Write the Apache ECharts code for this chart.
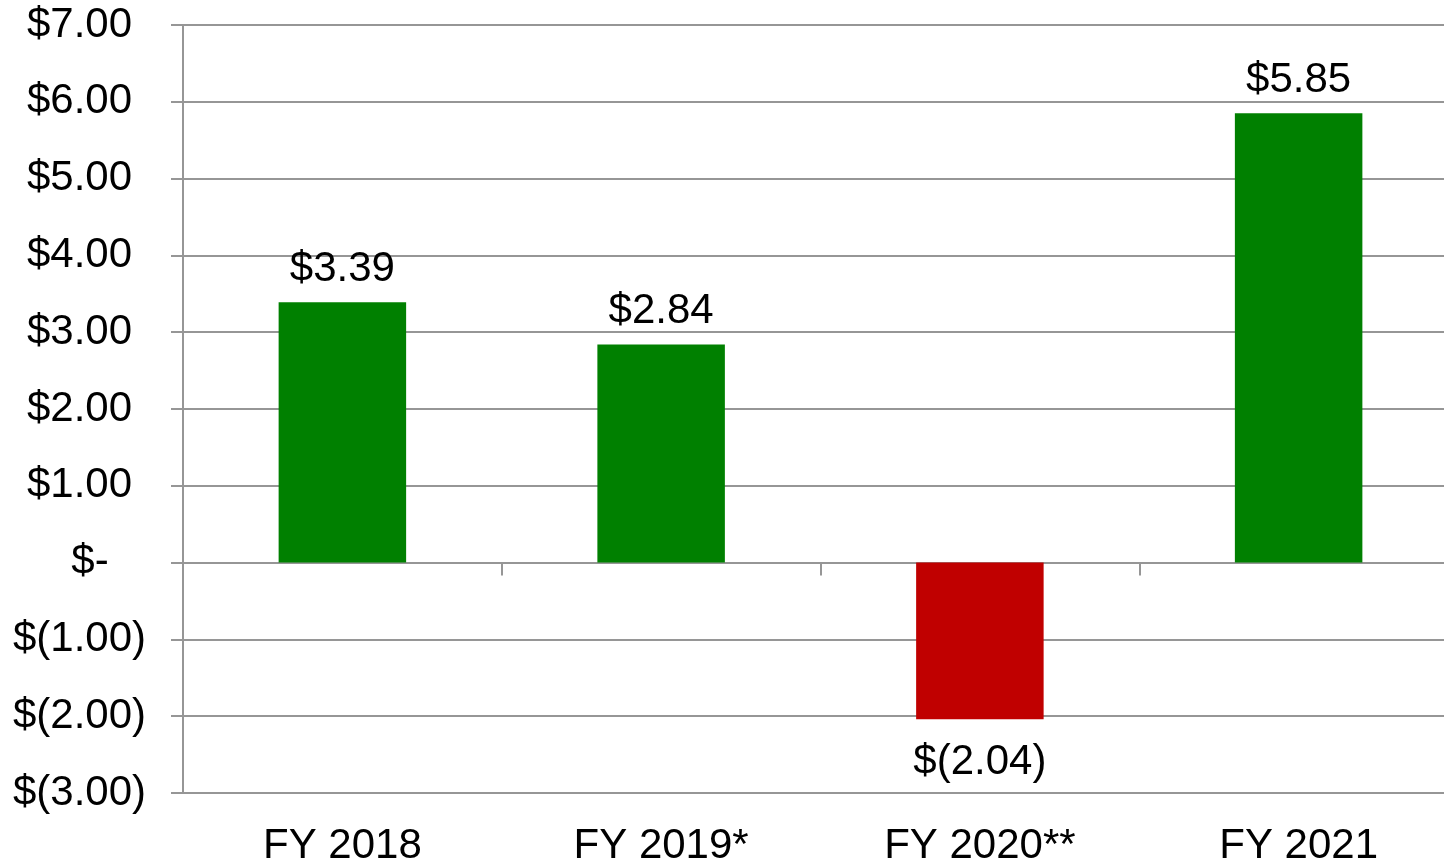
<!DOCTYPE html>
<html>
<head>
<meta charset="utf-8">
<script src="https://cdn.jsdelivr.net/npm/echarts@6/dist/echarts.min.js"></script>
<style>
  html, body { margin: 0; padding: 0; background: #fff; overflow: hidden; }
  /* the plot runs a little past the right edge, like the source; the body clips it */
  #chart { width: 1462px; height: 863px; }
</style>
</head>
<body>
<div id="chart"></div>
<script>
// data
const categories = ['FY 2018', 'FY 2019*', 'FY 2020**', 'FY 2021'];
const eps = [3.39, 2.84, -2.04, 5.85];
const yMin = -3, yMax = 7, yStep = 1;

const GREEN = '#008000';
const RED = '#c00000';
const GRID = '#969696';
const FONT = '"Liberation Sans", Arial, sans-serif';
const FS = 42;

// $3.39 / $(2.04) / $-
function money(v) {
  if (v === 0) return '$-';
  const s = Math.abs(v).toFixed(2);
  return v < 0 ? '$(' + s + ')' : '$' + s;
}

const myChart = echarts.init(document.getElementById('chart'));

let option = {
  animation: false,
  backgroundColor: '#fff',
  textStyle: { fontFamily: FONT },
  grid: { left: 183, top: 25, right: 4, bottom: 70, containLabel: false, outerBoundsMode: 'none' },
  xAxis: [
    {
      // axis line + ticks at zero
      type: 'category',
      data: categories,
      axisLine: { show: true, onZero: true, lineStyle: { color: GRID, width: 2 } },
      axisTick: { show: true, length: 13, lineStyle: { color: GRID, width: 2 } },
      axisLabel: { show: false },
      splitLine: { show: false }
    },
    {
      // labels at the bottom
      type: 'category',
      data: categories,
      position: 'bottom',
      axisLine: { show: false, onZero: false },
      axisTick: { show: false },
      axisLabel: { show: true, margin: 32, color: '#000', fontSize: FS, fontFamily: FONT },
      splitLine: { show: false }
    }
  ],
  yAxis: {
    type: 'value',
    min: yMin,
    max: yMax,
    interval: yStep,
    axisLine: { show: true, lineStyle: { color: GRID, width: 2 } },
    axisTick: { show: true, inside: false, length: 12, lineStyle: { color: GRID, width: 2 } },
    splitLine: { show: true, lineStyle: { color: GRID, width: 2 } },
    axisLabel: {
      margin: 37,
      color: '#000',
      fontSize: FS,
      fontFamily: FONT,
      // accounting style: numbers line up, ")" hangs out
      formatter: function (v) {
        if (v === 0) return '$-{h|0)}';
        if (v > 0) return money(v) + '{h|)}';
        return money(v);
      },
      rich: {
        h: { color: 'rgba(0,0,0,0)', fontSize: FS, fontFamily: FONT }
      }
    }
  },
  series: [
    {
      type: 'bar',
      xAxisIndex: 0,
      barWidth: '40%',
      data: eps.map(v => ({
        value: v,
        itemStyle: { color: v < 0 ? RED : GREEN },
        label: { position: v < 0 ? 'bottom' : 'top', distance: v < 0 ? 22 : 12 }
      })),
      label: {
        show: true,
        color: '#000',
        fontSize: FS,
        fontFamily: FONT,
        formatter: p => money(p.value)
      }
    }
  ]
};

myChart.setOption(option);
</script>
</body>
</html>
